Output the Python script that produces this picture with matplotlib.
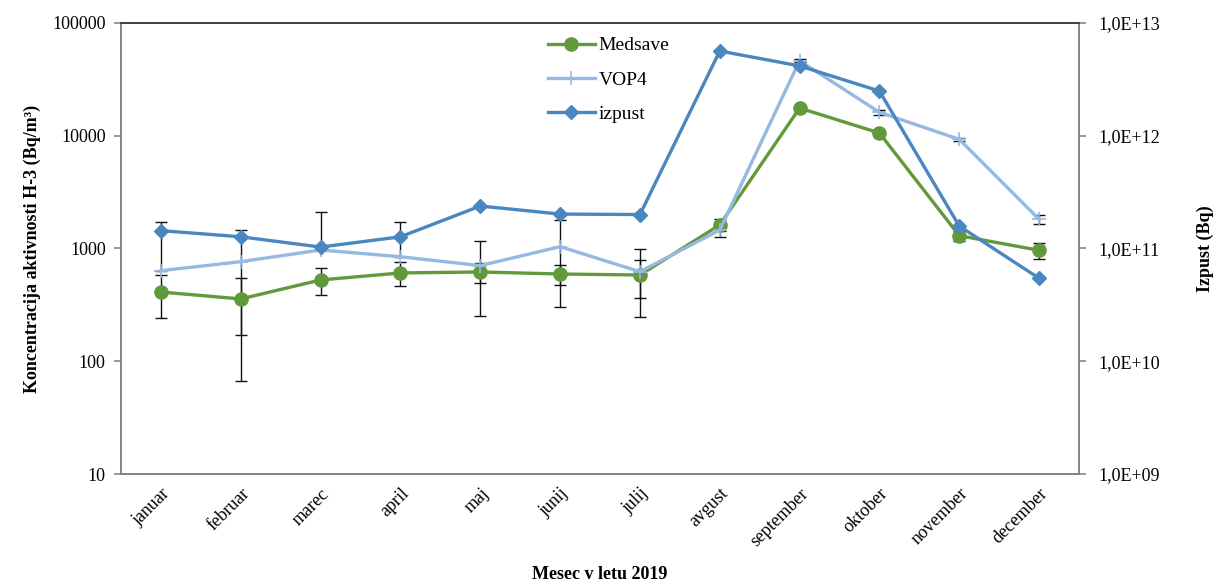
import matplotlib

matplotlib.use("Agg")
import matplotlib.pyplot as plt
import numpy as np
from matplotlib.ticker import FixedLocator, NullLocator, FixedFormatter

# Months of 2019
months = ["januar", "februar", "marec", "april", "maj", "junij", "julij",
          "avgust", "september", "oktober", "november", "december"]

# H-3 concentration (Bq/m3) and uncertainty
medsave = [411, 357, 526, 607, 619, 594, 582, 1618, 17600, 10570, 1299, 964]
medsave_err = [170, 185, 140, 145, 127, 123, 215, 200, 0, 0, 130, 150]
vop4 = [636, 764, 970, 845, 705, 1038, 623, 1459, 46300, 16140, 9290, 1815]
vop4_err = [1082, 697, 1148, 873, 455, 735, 375, 190, 1500, 800, 300, 150]

# Monthly release (Bq), right axis
izpust = [1.44e11, 1.27e11, 1.03e11, 1.27e11, 2.38e11, 2.02e11, 2.0e11,
          5.64e12, 4.16e12, 2.49e12, 1.58e11, 5.44e10]

right_ticks = [1e9, 1e10, 1e11, 1e12, 1e13]
right_labels = ["1,0E+09", "1,0E+10", "1,0E+11", "1,0E+12", "1,0E+13"]

plt.rcParams["font.family"] = ["Liberation Serif", "DejaVu Serif"]

GREEN = "#61993B"
LIGHT = "#95B9E3"
BLUE = "#4A86C0"
GRAY = "#868686"

fig = plt.figure(figsize=(12.14, 5.86), dpi=100)
ax = fig.add_axes([0.0997, 0.1911, 0.7891, 0.7697])
ax2 = ax.twinx()

x = np.arange(len(months))

# error bars (lower part dropped when it would go below zero on log scale)
med = np.array(medsave, float)
med_e = np.array(medsave_err, float)
vop = np.array(vop4, float)
vop_e = np.array(vop4_err, float)
vop_lo = np.where(vop - vop_e > 0, vop_e, 0)

ax.errorbar(x, vop, yerr=[vop_lo, vop_e], fmt="none", ecolor="#111111",
            elinewidth=1, capsize=4, capthick=1, zorder=2)
ax.errorbar(x, med, yerr=[med_e, med_e], fmt="none", ecolor="#111111",
            elinewidth=1, capsize=4, capthick=1, zorder=2)

l1, = ax.plot(x, medsave, color=GREEN, lw=2.4, marker="o", markersize=9.5,
              label="Medsave", zorder=3)
l2, = ax.plot(x, vop4, color=LIGHT, lw=2.4, marker="+", markersize=10,
              markeredgewidth=1.2, label="VOP4", zorder=3)
l3, = ax2.plot(x, izpust, color=BLUE, lw=2.4, marker="D", markersize=7.5,
               label="izpust", zorder=3)

ax.set_yscale("log")
ax.set_ylim(10, 100000)
ax.yaxis.set_major_locator(FixedLocator([10, 100, 1000, 10000, 100000]))
ax.yaxis.set_major_formatter(FixedFormatter(["10", "100", "1000", "10000", "100000"]))
ax.yaxis.set_minor_locator(NullLocator())

ax2.set_yscale("log")
ax2.set_ylim(1e9, 1e13)
ax2.yaxis.set_major_locator(FixedLocator(right_ticks))
ax2.yaxis.set_major_formatter(FixedFormatter(right_labels))
ax2.yaxis.set_minor_locator(NullLocator())

ax.set_xlim(-0.5, len(months) - 0.5)
ax.set_xticks(x)
ax.set_xticklabels(months, rotation=45, ha="right", rotation_mode="anchor",
                   fontsize=13)
ax.tick_params(axis="x", length=0, pad=8)
ax.tick_params(axis="y", labelsize=13, length=5, color=GRAY, width=1.2, pad=6)
ax2.tick_params(axis="y", labelsize=13, length=5, color=GRAY, width=1.2, pad=9)

for a in (ax, ax2):
    for side in ("left", "right", "bottom"):
        a.spines[side].set_color(GRAY)
        a.spines[side].set_linewidth(1.3)
    a.spines["top"].set_color("#404040")
    a.spines["top"].set_linewidth(1.3)

ax.set_ylabel("Koncentracija aktivnosti H-3 (Bq/m³)", fontsize=13,
              fontweight="bold", labelpad=8)
ax2.set_ylabel("Izpust (Bq)", fontsize=13, fontweight="bold", labelpad=26)
ax.set_xlabel("Mesec v letu 2019", fontsize=13, fontweight="bold", labelpad=12)

fig.legend(handles=[l1, l2, l3], loc="upper left",
           bbox_to_anchor=(0.437, 0.967), frameon=False, fontsize=14,
           handlelength=2.4, handletextpad=0.2, labelspacing=0.85)

fig.savefig("out.png", dpi=100)
